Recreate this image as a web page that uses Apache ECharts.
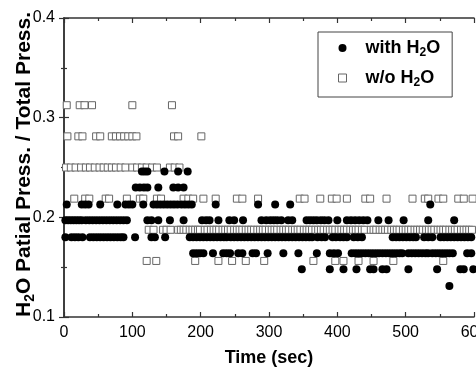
<!DOCTYPE html>
<html>
<head>
<meta charset="utf-8">
<script src="https://cdn.jsdelivr.net/npm/echarts@6/dist/echarts.min.js"></script>
<style>html,body{margin:0;padding:0;background:#fff}#c{width:476px;height:367px}</style>
</head>
<body>
<div id="c"></div>
<script>
// ---- data ----
const xTicks = [0, 100, 200, 300, 400, 500, 600];
const yTicks = [0.1, 0.2, 0.3, 0.4];

// "with H2O" (filled circles): times (sec) at each quantised level
const withLevels = [0.246, 0.230, 0.213, 0.197, 0.180, 0.164, 0.148, 0.131];
const with_0246 = [114, 118, 122, 147, 167, 181];
const with_0230 = [105, 111, 117, 122, 138, 160, 167, 175];
const with_0213 = [4, 26, 31, 36, 53, 78, 90, 95, 100, 116, 131, 136, 141, 146, 151, 156, 161, 166, 172, 177, 182, 187, 222, 284, 309, 331, 536];
const with_0197 = [2, 6, 10, 14, 18, 22, 26, 32, 37, 42, 47, 52, 57, 62, 67, 72, 77, 82, 87, 92, 122, 128, 138, 155, 175, 202, 208, 213, 226, 242, 249, 262, 289, 296, 302, 307, 312, 318, 328, 334, 355, 360, 365, 370, 376, 381, 387, 400, 414, 420, 426, 432, 438, 444, 460, 475, 497, 533, 571];
const with_0180 = [2, 11, 16, 21, 27, 38, 43, 48, 53, 58, 63, 68, 73, 78, 83, 87, 104, 128, 133, 148, 184, 189, 194, 199, 204, 209, 214, 219, 224, 229, 234, 238, 244, 249, 254, 259, 264, 269, 274, 279, 284, 289, 294, 299, 304, 309, 314, 319, 324, 329, 334, 339, 344, 349, 354, 359, 363, 371, 377, 382, 393, 398, 404, 409, 414, 424, 430, 436, 481, 486, 491, 496, 501, 506, 511, 515, 527, 533, 539, 551, 556, 561, 566, 571, 576, 581, 586, 591, 596];
const with_0164 = [189, 194, 199, 204, 218, 233, 238, 243, 255, 261, 276, 281, 298, 321, 343, 370, 389, 395, 401, 421, 426, 431, 436, 441, 446, 451, 456, 461, 466, 471, 476, 481, 486, 491, 495, 504, 509, 514, 519, 524, 529, 533, 539, 544, 549, 554, 559, 564, 569, 590, 596];
const with_0148 = [348, 389, 409, 428, 448, 453, 466, 472, 504, 546, 580, 585, 599];
const with_0131 = [564];
const withTimes = [with_0246, with_0230, with_0213, with_0197, with_0180, with_0164, with_0148, with_0131];

// "w/o H2O" (open squares)
const woLevels = [0.3125, 0.28125, 0.25, 0.21875, 0.1875, 0.15625];
const wo_0313 = [4, 23, 30, 41, 100, 158];
const wo_0281 = [5, 21, 27, 47, 53, 70, 76, 82, 88, 94, 100, 106, 161, 167, 201];
const wo_0250 = [3, 10, 17, 25, 32, 38, 45, 52, 58, 64, 70, 76, 83, 90, 100, 107, 114, 121, 129, 136, 155, 162, 169];
const wo_0219 = [15, 31, 37, 61, 66, 92, 111, 116, 136, 142, 175, 182, 189, 204, 222, 253, 261, 284, 345, 352, 375, 392, 399, 414, 441, 448, 472, 510, 528, 533, 548, 555, 577, 585, 598];
const wo_0188 = [124, 131, 145, 150, 156, 167, 171, 175, 179, 184, 188, 192, 196, 199, 206, 210, 215, 219, 223, 227, 232, 236, 240, 244, 249, 253, 257, 261, 266, 270, 274, 278, 283, 287, 291, 295, 300, 304, 308, 312, 317, 321, 325, 329, 334, 338, 342, 346, 351, 355, 359, 363, 368, 372, 376, 380, 385, 389, 393, 397, 402, 406, 410, 414, 419, 423, 427, 431, 436, 440, 449, 453, 457, 462, 466, 470, 474, 479, 483, 487, 491, 496, 500, 504, 508, 513, 517, 521, 525, 530, 534, 538, 542, 547, 551, 555, 559, 564, 568, 572, 576, 581, 585, 589, 593, 597];
const wo_0156 = [121, 135, 192, 226, 246, 266, 293, 365, 397, 409, 431, 453, 482, 555];
const woTimes = [wo_0313, wo_0281, wo_0250, wo_0219, wo_0188, wo_0156];

// ---- build series data ----
function build(levels, times) {
  const out = [];
  levels.forEach((lv, i) => times[i].forEach(t => out.push([t, lv])));
  return out;
}
const withData = build(withLevels, withTimes);
const woData = build(woLevels, woTimes);

const FF = '"Liberation Sans", Arial, sans-serif';
const chart = echarts.init(document.getElementById('c'), null, {renderer: 'canvas'});

const axisLineStyle = {color: '#333', width: 1.5};
const tickStyle = {color: '#333', width: 1.2};

chart.setOption({
  animation: false,
  backgroundColor: '#fff',
  grid: {left: 64, right: 2, top: 18, bottom: 50, containLabel: false, outerBoundsMode: 'none'},
  legend: {
    orient: 'vertical',
    left: 318, top: 32,
    padding: [7, 12, 8, 20],
    itemGap: 10,
    itemWidth: 8, itemHeight: 8,
    borderColor: '#444', borderWidth: 1,
    data: [
      {name: 'with H2O', icon: 'circle'},
      {name: 'w/o H2O', icon: 'rect', itemStyle: {color: '#fff', borderColor: '#666', borderWidth: 1}}
    ],
    formatter: function (n) {
      return n === 'with H2O' ? '{b|with H}{s|2}{b|O}' : '{b|w/o H}{s|2}{b|O}';
    },
    textStyle: {
      padding: [0, 0, 0, 14],
      rich: {
        b: {fontSize: 18, fontWeight: 'bold', fontFamily: FF, color: '#000', lineHeight: 22},
        s: {fontSize: 12, fontWeight: 'bold', fontFamily: FF, color: '#000', lineHeight: 12, verticalAlign: 'bottom'}
      }
    }
  },
  xAxis: [{
    type: 'value', min: 0, max: 600, interval: 100,
    name: 'Time (sec)', nameLocation: 'middle', nameGap: 32, nameMoveOverlap: false,
    nameTextStyle: {fontSize: 18, fontWeight: 'bold', fontFamily: FF, color: '#000'},
    axisLine: {show: true, lineStyle: axisLineStyle},
    axisTick: {show: true, inside: true, length: 5, lineStyle: tickStyle},
    minorTick: {show: true, splitNumber: 2, length: 3, lineStyle: tickStyle},
    axisLabel: {fontSize: 16, fontFamily: FF, color: '#000', margin: 8,
      formatter: v => xTicks.includes(v) ? String(v) : ''},
    splitLine: {show: false}
  }, {
    type: 'value', min: 0, max: 600, interval: 100, position: 'top',
    axisLine: {show: true, lineStyle: axisLineStyle},
    axisTick: {show: true, inside: true, length: 5, lineStyle: tickStyle},
    minorTick: {show: true, splitNumber: 2, length: 3, lineStyle: tickStyle},
    axisLabel: {show: false}, splitLine: {show: false}
  }],
  yAxis: [{
    type: 'value', min: 0.1, max: 0.4, interval: 0.1,
    name: '{b|H}{s|2}{b|O Patial Press. / Total Press.}',
    nameLocation: 'middle', nameGap: 27, nameRotate: 90, nameMoveOverlap: false,
    nameTextStyle: {
      padding: [0, 0, 0, 6],
      rich: {
        b: {fontSize: 21, fontWeight: 'bold', fontFamily: FF, color: '#000', lineHeight: 25},
        s: {fontSize: 14, fontWeight: 'bold', fontFamily: FF, color: '#000', lineHeight: 14, verticalAlign: 'bottom'}
      }
    },
    axisLine: {show: true, lineStyle: axisLineStyle},
    axisTick: {show: true, inside: true, length: 5, lineStyle: tickStyle},
    minorTick: {show: true, splitNumber: 2, length: 3, lineStyle: tickStyle},
    axisLabel: {fontSize: 16, fontFamily: FF, color: '#000', margin: 9,
      formatter: v => { const r = Math.round(v * 10) / 10; return yTicks.includes(r) ? r.toFixed(1) : ''; }},
    splitLine: {show: false}
  }, {
    type: 'value', min: 0.1, max: 0.4, interval: 0.1, position: 'right',
    axisLine: {show: true, lineStyle: axisLineStyle},
    axisTick: {show: true, inside: true, length: 5, lineStyle: tickStyle},
    minorTick: {show: true, splitNumber: 2, length: 3, lineStyle: tickStyle},
    axisLabel: {show: false}, splitLine: {show: false}
  }],
  series: [{
    name: 'with H2O', type: 'scatter', data: withData, z: 3,
    symbol: 'circle', symbolSize: 8,
    itemStyle: {color: '#000', opacity: 1}
  }, {
    name: 'w/o H2O', type: 'scatter', data: woData, z: 2,
    symbol: 'rect', symbolSize: 7,
    itemStyle: {color: '#fff', borderColor: '#666', borderWidth: 1, opacity: 1}
  }]
});
</script>
</body>
</html>
